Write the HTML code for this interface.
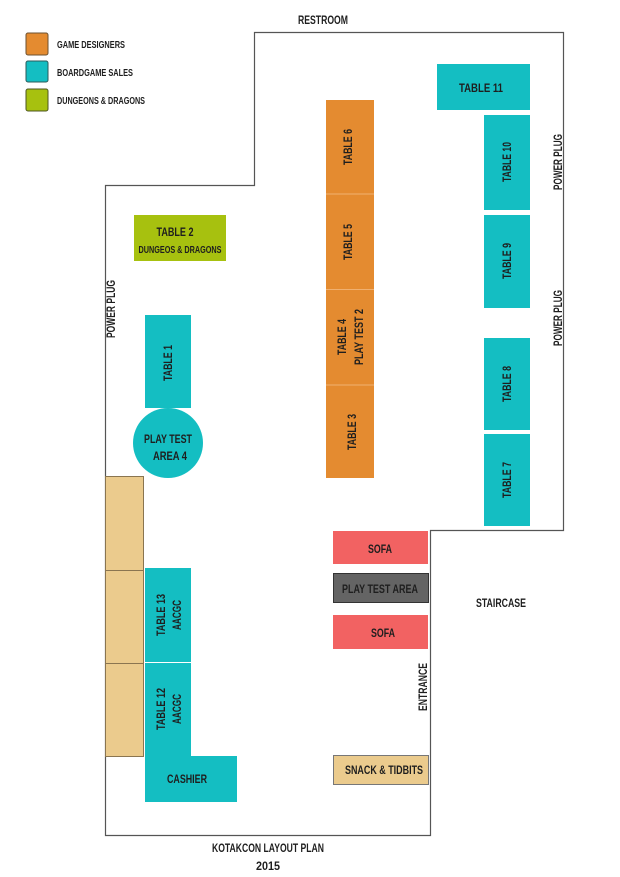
<!DOCTYPE html>
<html><head><style>html,body{margin:0;padding:0;background:#fff}svg{display:block}
text{font-family:"Liberation Sans Narrow","Liberation Sans",sans-serif;font-weight:bold;fill:#1e1e1e}</style></head>
<body>
<svg width="620" height="877" viewBox="0 0 620 877" xmlns="http://www.w3.org/2000/svg">
<!-- outline -->
<path d="M254.5 32.5 H563.5 V530.5 H430.5 V835.5 H105.5 V185.5 H254.5 Z" fill="none" stroke="#555" stroke-width="1.2"/>
<!-- legend -->
<rect x="26" y="33" width="22" height="22" rx="2" fill="#e48b30" stroke="#6b5030"/>
<rect x="26" y="61" width="22" height="21" rx="2" fill="#14bec2" stroke="#2b5a5a"/>
<rect x="26" y="89" width="22" height="22" rx="2" fill="#a7c10f" stroke="#4d5520"/>
<text x="57" y="48" font-size="10" textLength="68" lengthAdjust="spacingAndGlyphs">GAME DESIGNERS</text>
<text x="57" y="76" font-size="10" textLength="76" lengthAdjust="spacingAndGlyphs">BOARDGAME SALES</text>
<text x="57" y="104" font-size="10" textLength="88" lengthAdjust="spacingAndGlyphs">DUNGEONS &amp; DRAGONS</text>
<text x="323" y="24" font-size="12" text-anchor="middle" textLength="50" lengthAdjust="spacingAndGlyphs">RESTROOM</text>
<!-- right tables -->
<rect x="437" y="64" width="93" height="46" fill="#14bec2"/>
<text x="481" y="92" font-size="12" text-anchor="middle" textLength="44" lengthAdjust="spacingAndGlyphs">TABLE 11</text>
<rect x="484" y="115" width="46" height="95" fill="#14bec2"/>
<rect x="484" y="215" width="46" height="93" fill="#14bec2"/>
<rect x="484" y="338" width="46" height="92" fill="#14bec2"/>
<rect x="484" y="434" width="46" height="92" fill="#14bec2"/>
<g font-size="12" text-anchor="middle">
<text transform="translate(511 162) rotate(-90)" textLength="40" lengthAdjust="spacingAndGlyphs">TABLE 10</text>
<text transform="translate(511 261) rotate(-90)" textLength="36" lengthAdjust="spacingAndGlyphs">TABLE 9</text>
<text transform="translate(511 384) rotate(-90)" textLength="36" lengthAdjust="spacingAndGlyphs">TABLE 8</text>
<text transform="translate(511 480) rotate(-90)" textLength="36" lengthAdjust="spacingAndGlyphs">TABLE 7</text>
<text transform="translate(562 162) rotate(-90)" textLength="56" lengthAdjust="spacingAndGlyphs">POWER PLUG</text>
<text transform="translate(562 318) rotate(-90)" textLength="56" lengthAdjust="spacingAndGlyphs">POWER PLUG</text>
<text transform="translate(115 309) rotate(-90)" textLength="58" lengthAdjust="spacingAndGlyphs">POWER PLUG</text>
</g>
<!-- orange column -->
<rect x="326" y="100" width="48" height="378" fill="#e48b30"/>
<g stroke="#f0b070" stroke-width="1"><line x1="326" y1="194" x2="374" y2="194"/><line x1="326" y1="289.5" x2="374" y2="289.5"/><line x1="326" y1="385" x2="374" y2="385"/></g>
<g font-size="12" text-anchor="middle">
<text transform="translate(352 147) rotate(-90)" textLength="36" lengthAdjust="spacingAndGlyphs">TABLE 6</text>
<text transform="translate(352 242) rotate(-90)" textLength="36" lengthAdjust="spacingAndGlyphs">TABLE 5</text>
<text transform="translate(346 337) rotate(-90)" textLength="36" lengthAdjust="spacingAndGlyphs">TABLE 4</text>
<text transform="translate(363 337) rotate(-90)" textLength="56" lengthAdjust="spacingAndGlyphs">PLAY TEST 2</text>
<text transform="translate(356 432) rotate(-90)" textLength="36" lengthAdjust="spacingAndGlyphs">TABLE 3</text>
</g>
<!-- table 2 -->
<rect x="134" y="215" width="92" height="46" fill="#a7c10f"/>
<text x="175" y="236" font-size="12" text-anchor="middle" textLength="37" lengthAdjust="spacingAndGlyphs">TABLE 2</text>
<text x="180" y="253" font-size="10" text-anchor="middle" textLength="83" lengthAdjust="spacingAndGlyphs">DUNGEOS &amp; DRAGONS</text>
<!-- table 1 + circle -->
<rect x="145" y="315" width="46" height="93" fill="#14bec2"/>
<text transform="translate(172 363) rotate(-90)" font-size="12" text-anchor="middle" textLength="36" lengthAdjust="spacingAndGlyphs">TABLE 1</text>
<circle cx="168" cy="443" r="35" fill="#14bec2"/>
<text x="168" y="443" font-size="12" text-anchor="middle" textLength="48" lengthAdjust="spacingAndGlyphs">PLAY TEST</text>
<text x="170" y="460" font-size="12" text-anchor="middle" textLength="34" lengthAdjust="spacingAndGlyphs">AREA 4</text>
<!-- tan boxes -->
<g fill="#ebcb8d" stroke="#8a7550" stroke-width="1">
<rect x="105.5" y="476.5" width="38" height="94"/>
<rect x="105.5" y="570.5" width="38" height="93"/>
<rect x="105.5" y="663.5" width="38" height="93"/>
</g>
<rect x="145" y="568" width="46" height="94" fill="#14bec2"/>
<rect x="145" y="663" width="46" height="93" fill="#14bec2"/>
<rect x="145" y="756" width="92" height="46" fill="#14bec2"/>
<g font-size="12" text-anchor="middle">
<text transform="translate(165 615) rotate(-90)" textLength="42" lengthAdjust="spacingAndGlyphs">TABLE 13</text>
<text transform="translate(181 615) rotate(-90)" textLength="30" lengthAdjust="spacingAndGlyphs">AACGC</text>
<text transform="translate(165 709) rotate(-90)" textLength="42" lengthAdjust="spacingAndGlyphs">TABLE 12</text>
<text transform="translate(181 709) rotate(-90)" textLength="30" lengthAdjust="spacingAndGlyphs">AACGC</text>
<text x="187" y="783" textLength="40" lengthAdjust="spacingAndGlyphs">CASHIER</text>
</g>
<!-- lower right -->
<rect x="333" y="531" width="95" height="33" fill="#f26262"/>
<rect x="333.5" y="573.5" width="95" height="29" fill="#646464" stroke="#333"/>
<rect x="333" y="615" width="95" height="34" fill="#f26262"/>
<rect x="333.5" y="755.5" width="95" height="29" fill="#ebcb8d" stroke="#777"/>
<g font-size="12" text-anchor="middle">
<text x="380" y="553" textLength="24" lengthAdjust="spacingAndGlyphs">SOFA</text>
<text x="380" y="593" textLength="76" lengthAdjust="spacingAndGlyphs">PLAY TEST AREA</text>
<text x="383" y="637" textLength="24" lengthAdjust="spacingAndGlyphs">SOFA</text>
<text x="384" y="774" textLength="78" lengthAdjust="spacingAndGlyphs">SNACK &amp; TIDBITS</text>
<text x="501" y="607" textLength="50" lengthAdjust="spacingAndGlyphs">STAIRCASE</text>
<text transform="translate(427 687) rotate(-90)" textLength="48" lengthAdjust="spacingAndGlyphs">ENTRANCE</text>
<text x="268" y="852" textLength="112" lengthAdjust="spacingAndGlyphs">KOTAKCON LAYOUT PLAN</text>
<text x="268" y="870" textLength="24" lengthAdjust="spacingAndGlyphs">2015</text>
</g>
</svg>
</body></html>
